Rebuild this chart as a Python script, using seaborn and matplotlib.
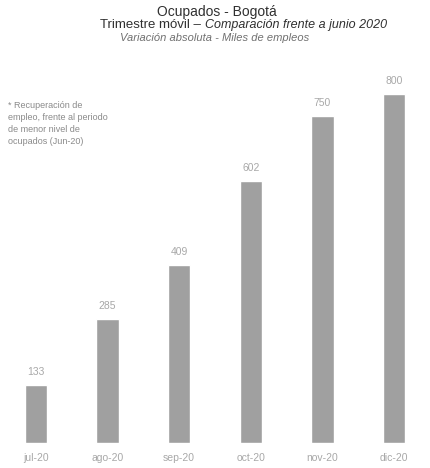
import pandas as pd
import matplotlib.pyplot as plt
import seaborn as sns

# valores (miles de empleos)
meses = ['jul-20', 'ago-20', 'sep-20', 'oct-20', 'nov-20', 'dic-20']
variacion = [133, 285, 409, 602, 750, 800]

data = pd.DataFrame({'mes': meses, 'variacion': variacion})

sns.set_style('white')
plt.rcParams['font.family'] = ['Liberation Sans', 'DejaVu Sans']

fig = plt.figure(figsize=(4.30, 4.68), dpi=100)
ax = fig.add_axes([0.0, 0.053, 1.0, 0.82])

sns.barplot(data=data, x='mes', y='variacion', color='#a0a0a0', width=0.31,
            saturation=1, ax=ax)

for i, v in enumerate(variacion):
    ax.text(i, v + 18, str(v), ha='center', va='bottom', fontsize=7.5, color='#a8a8a8')

ax.set_ylim(0, 880)
ax.set_xlim(-0.5, 5.5)
ax.set_xlabel('')
ax.set_ylabel('')
ax.set_yticks([])
sns.despine(ax=ax, left=True, bottom=True)
ax.tick_params(axis='x', length=0, pad=7, labelsize=7.5, labelcolor='#a8a8a8')

# títulos
fig.text(0.505, 0.975, 'Ocupados - Bogotá', ha='center', va='center', fontsize=10, color='#303030')
fig.text(0.476, 0.946, 'Trimestre móvil – ', ha='right', va='center', fontsize=9.5, color='#303030')
fig.text(0.476, 0.946, 'Comparación frente a junio 2020', ha='left', va='center', fontsize=9,
         style='italic', color='#303030')
fig.text(0.5, 0.918, 'Variación absoluta - Miles de empleos', ha='center', va='center',
         fontsize=8, style='italic', color='#707070')

fig.text(0.018, 0.785, '* Recuperación de\nempleo, frente al periodo\nde menor nivel de\nocupados (Jun-20)',
         ha='left', va='top', fontsize=6.5, color='#8a8a8a', linespacing=1.45)

plt.savefig('out.png', dpi=100)
